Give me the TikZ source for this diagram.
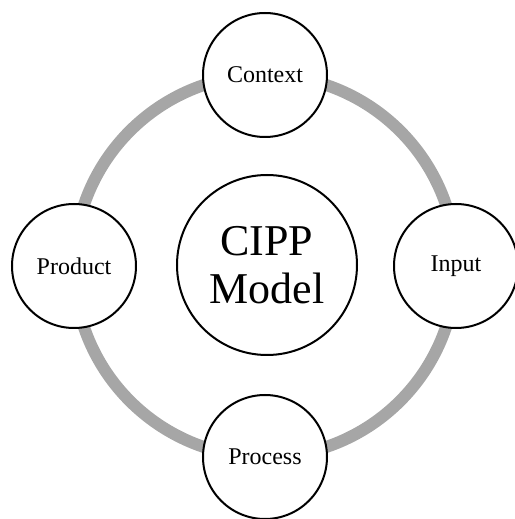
\documentclass[tikz,border=0pt]{standalone}
\usepackage{fontspec}
\setmainfont{Liberation Serif}
\usetikzlibrary{positioning}

\begin{document}
\begin{tikzpicture}[
  x=0.5pt,y=0.5pt,
  stage/.style={draw,circle,fill=white,line width=1pt,minimum size=62pt,inner sep=0pt,font=\fontsize{12}{14}\selectfont},
  hub/.style={draw,circle,fill=white,line width=1pt,minimum size=90pt,inner sep=0pt,align=center,font=\fontsize{22}{24}\selectfont},
  ring/.style={line width=6pt,draw=black!35}
]
\useasboundingbox (-265,-253) rectangle (249,266);
\coordinate (mid) at (0,0);
\draw[ring] (mid) circle[radius=95.5pt];
\node[hub] (cipp) at (2,1) {CIPP\\Model};
\node[stage] (context) at (0,191) {Context};
\node[stage] (input) at (191,0) {Input};
\node[stage] (process) at (0,-191) {Process};
\node[stage] (product) at (-191,0) {Product};
\end{tikzpicture}
\end{document}
